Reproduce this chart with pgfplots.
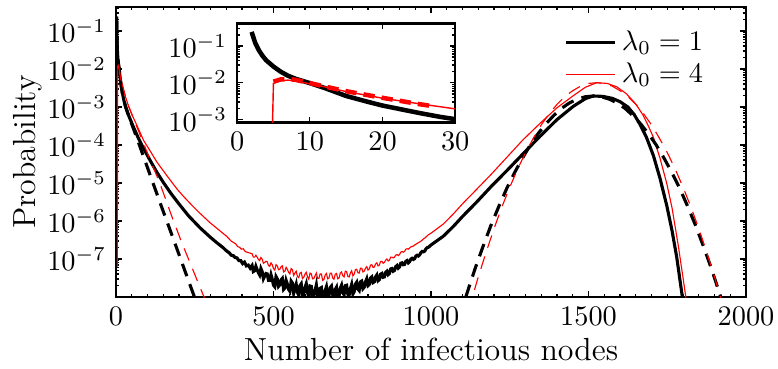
\documentclass[border=0pt]{standalone}
\usepackage{pgfplots}
\pgfplotsset{compat=1.18}
\begin{document}
\begin{tikzpicture}
\begin{axis}[
  name=main,
  scale only axis, width=222.7pt, height=102.5pt,
  xmin=0, xmax=2000, ymin=-8, ymax=-0.37,
  xtick={0,500,1000,1500,2000}, minor x tick num=9,
  /pgf/number format/set thousands separator={},
  ytick={-7,-6,-5,-4,-3,-2,-1},
  yticklabels={$10^{-7}$,$10^{-6}$,$10^{-5}$,$10^{-4}$,$10^{-3}$,$10^{-2}$,$10^{-1}$},
  minor ytick={-7.699,-7.523,-7.398,-7.301,-7.222,-7.155,-7.097,-7.046,
               -6.699,-6.523,-6.398,-6.301,-6.222,-6.155,-6.097,-6.046,
               -5.699,-5.523,-5.398,-5.301,-5.222,-5.155,-5.097,-5.046,
               -4.699,-4.523,-4.398,-4.301,-4.222,-4.155,-4.097,-4.046,
               -3.699,-3.523,-3.398,-3.301,-3.222,-3.155,-3.097,-3.046,
               -2.699,-2.523,-2.398,-2.301,-2.222,-2.155,-2.097,-2.046,
               -1.699,-1.523,-1.398,-1.301,-1.222,-1.155,-1.097,-1.046,
               -0.699,-0.523,-0.398},
  tick align=inside, major tick length=2pt, minor tick length=1.2pt,
  every tick/.style={black, line width=0.5pt},
  axis line style={line width=0.8pt},
  xlabel={Number of infectious nodes}, ylabel={Probability},
  xlabel shift=-2.5pt, ylabel shift=-5pt,
  label style={font=\fontsize{11.3}{13}\selectfont},
  tick label style={font=\fontsize{10}{12}\selectfont},
  legend style={draw=none, fill=none, at={(0.955,0.96)}, anchor=north east,
                font=\fontsize{10}{12}\selectfont, row sep=-1pt},
  legend cell align=left,
]
% lambda_0 = 1, simulation
\addplot[black, line width=1.1pt] coordinates {
(2,-0.62) (3,-1.15) (4,-1.42) (5,-1.60) (6,-1.72) (8,-1.88) (10,-1.99) (12,-2.14)
(15,-2.36) (20,-2.62) (25,-2.82) (30,-2.98) (40,-3.22) (55,-3.52) (70,-3.80) (85,-4.05)
(108,-4.40) (130,-4.72) (150,-4.98) (175,-5.28) (200,-5.55) (230,-5.86) (267,-6.18)
(300,-6.43) (320,-6.57) (340,-6.70) (350,-6.78) (360,-6.84) (366,-6.90) (372,-6.91) (378,-6.96)
(384,-6.97) (390,-7.04) (396,-7.04) (402,-7.12) (408,-7.08) (414,-7.18) (420,-7.16) (426,-7.24)
(432,-7.17) (436,-7.33) (440,-7.31) (444,-7.19) (448,-7.28) (452,-7.36) (456,-7.42) (460,-7.25)
(464,-7.33) (468,-7.52) (472,-7.45) (476,-7.38) (480,-7.39) (484,-7.56) (488,-7.56) (492,-7.41)
(496,-7.53) (500,-7.69) (504,-7.73) (508,-7.46) (512,-7.52) (516,-7.72) (520,-7.68) (524,-7.55)
(528,-7.51) (532,-7.80) (536,-7.76) (540,-7.56) (544,-7.66) (548,-7.80) (552,-7.85) (556,-7.58)
(560,-7.63) (564,-7.90) (568,-7.77) (572,-7.66) (576,-7.88) (580,-7.95) (584,-7.70) (588,-7.65)
(592,-7.95) (596,-7.91) (600,-7.75) (604,-7.65) (608,-7.88) (612,-8.00) (616,-7.71) (620,-7.72)
(624,-7.96) (628,-7.97) (632,-7.83) (636,-7.68) (640,-7.95) (644,-7.97) (648,-7.77) (652,-7.75)
(656,-8.04) (660,-8.03) (664,-7.83) (668,-7.73) (672,-7.98) (676,-7.97) (680,-7.75) (684,-7.71)
(688,-7.94) (692,-8.02) (696,-7.80) (700,-7.74) (704,-8.01) (708,-7.98) (712,-7.77) (716,-7.69)
(720,-7.89) (724,-7.94) (728,-7.70) (732,-7.69) (736,-7.93) (740,-7.95) (744,-7.78) (748,-7.67)
(752,-7.92) (756,-7.86) (760,-7.66) (764,-7.61) (768,-7.79) (772,-7.83) (776,-7.60) (780,-7.58)
(784,-7.78) (788,-7.74) (792,-7.60) (796,-7.52) (800,-7.70) (804,-7.67) (808,-7.50) (812,-7.47)
(816,-7.62) (820,-7.60) (824,-7.47) (828,-7.42) (832,-7.57) (836,-7.54) (840,-7.40) (844,-7.38)
(848,-7.48) (852,-7.47) (856,-7.35) (860,-7.32) (864,-7.41) (868,-7.38) (872,-7.26) (876,-7.25)
(880,-7.32) (884,-7.30) (888,-7.20) (892,-7.17) (896,-7.24) (900,-7.21) (904,-7.11) (908,-7.10)
(912,-7.15) (916,-7.14) (920,-7.06) (924,-7.04) (928,-7.10) (932,-7.07) (936,-7.00) (940,-6.98)
(944,-7.01) (948,-6.99) (952,-6.92) (956,-6.90) (960,-6.92) (964,-6.89) (968,-6.83) (972,-6.80)
(976,-6.81) (980,-6.79) (984,-6.73) (988,-6.70) (992,-6.69) (996,-6.66) (1000,-6.63)
(1039,-6.40) (1070,-6.15) (1100,-5.88) (1145,-5.50) (1190,-5.10) (1240,-4.68) (1290,-4.25)
(1346,-3.77) (1400,-3.33) (1452,-2.98) (1490,-2.78) (1515,-2.71) (1545,-2.72) (1575,-2.77)
(1600,-2.86) (1625,-3.00) (1645,-3.20) (1663,-3.45) (1684,-3.80) (1706,-4.28) (1727,-4.88)
(1748,-5.58) (1765,-6.25) (1780,-6.95) (1797,-7.95) (1805,-8.4)
};
\addlegendentry{$\lambda_0 = 1$}
% lambda_0 = 4, simulation
\addplot[red, line width=0.4pt] coordinates {
(4.4,-7.2) (5,-2.02) (6,-1.94) (7,-1.93) (8,-1.95) (10,-2.05) (12,-2.13) (15,-2.25)
(20,-2.43) (25,-2.59) (30,-2.73) (40,-2.98) (55,-3.28) (70,-3.55) (87,-3.87) (108,-4.15)
(130,-4.45) (161,-4.80) (193,-5.15) (214,-5.35) (245,-5.62) (267,-5.80) (298,-6.04)
(320,-6.19) (351,-6.40) (366,-6.53) (380,-6.60) (386,-6.67) (392,-6.69) (398,-6.74) (404,-6.73)
(410,-6.80) (416,-6.82) (424,-6.84)
(432,-6.86) (436,-6.95) (440,-6.95) (444,-6.90) (448,-6.95) (452,-7.01) (456,-7.04) (460,-6.96)
(464,-7.00) (468,-7.11) (472,-7.09) (476,-7.06) (480,-7.07) (484,-7.17) (488,-7.19) (492,-7.10)
(496,-7.15) (500,-7.25) (504,-7.29) (508,-7.15) (512,-7.18) (516,-7.28) (520,-7.27) (524,-7.20)
(528,-7.18) (532,-7.34) (536,-7.32) (540,-7.22) (544,-7.27) (548,-7.35) (552,-7.39) (556,-7.25)
(560,-7.28) (564,-7.43) (568,-7.37) (572,-7.32) (576,-7.46) (580,-7.49) (584,-7.37) (588,-7.35)
(592,-7.51) (596,-7.48) (600,-7.40) (604,-7.35) (608,-7.47) (612,-7.53) (616,-7.37) (620,-7.39)
(624,-7.52) (628,-7.51) (632,-7.44) (636,-7.37) (640,-7.51) (644,-7.51) (648,-7.39) (652,-7.39)
(656,-7.56) (660,-7.54) (664,-7.42) (668,-7.38) (672,-7.52) (676,-7.50) (680,-7.37) (684,-7.37)
(688,-7.50) (692,-7.53) (696,-7.40) (700,-7.38) (704,-7.52) (708,-7.50) (712,-7.37) (716,-7.34)
(720,-7.44) (724,-7.47) (728,-7.32) (732,-7.33) (736,-7.46) (740,-7.47) (744,-7.37) (748,-7.31)
(752,-7.44) (756,-7.40) (760,-7.28) (764,-7.27) (768,-7.36) (772,-7.37) (776,-7.24) (780,-7.24)
(784,-7.34) (788,-7.32) (792,-7.24) (796,-7.20) (800,-7.29) (804,-7.26) (808,-7.16) (812,-7.15)
(816,-7.22) (820,-7.21) (824,-7.13) (828,-7.10) (832,-7.18) (836,-7.16) (840,-7.06) (844,-7.06)
(848,-7.11) (852,-7.09) (856,-7.03) (860,-7.00) (864,-7.05) (868,-7.03) (872,-6.95) (876,-6.95)
(880,-6.97) (884,-6.95) (888,-6.90) (892,-6.88) (896,-6.91) (900,-6.88) (904,-6.82) (908,-6.80)
(912,-6.82) (916,-6.80) (920,-6.74) (924,-6.73) (928,-6.74) (932,-6.71) (936,-6.68) (940,-6.67)
(944,-6.66) (948,-6.63) (952,-6.61) (956,-6.59) (960,-6.57) (964,-6.55) (968,-6.53) (972,-6.50)
(976,-6.47) (980,-6.45) (984,-6.42) (988,-6.39) (992,-6.36) (996,-6.34) (1000,-6.32)
(1039,-6.08) (1070,-5.82) (1103,-5.52) (1135,-5.25) (1190,-4.78) (1240,-4.33) (1290,-3.88)
(1346,-3.43) (1400,-3.02) (1452,-2.70) (1490,-2.48) (1526,-2.36) (1560,-2.38) (1590,-2.47)
(1620,-2.65) (1650,-2.92) (1672,-3.20) (1690,-3.50) (1706,-3.80) (1727,-4.35) (1748,-5.00)
(1765,-5.65) (1785,-6.65) (1808,-7.95) (1816,-8.4)
};
\addlegendentry{$\lambda_0 = 4$}
% lambda_0 = 1, approximation (small outbreaks)
\addplot[black, line width=1.1pt, dash pattern=on 4.6pt off 3pt, forget plot] coordinates {
(2,-0.62) (3,-1.15) (4,-1.42) (5,-1.60) (6,-1.72) (8,-1.88) (10,-1.99) (12,-2.14)
(15,-2.36) (20,-2.62) (25,-2.82) (30,-2.98) (40,-3.23) (55,-3.56) (70,-3.90) (85,-4.25)
(108,-4.78) (140,-5.52) (171,-6.22) (200,-6.88) (224,-7.43) (250,-8.02) (262,-8.3)
};
% lambda_0 = 1, approximation (large outbreaks)
\addplot[black, line width=1.1pt, dash pattern=on 4.6pt off 3pt, forget plot] coordinates {
(1090,-8.54) (1115,-7.88) (1140,-7.25) (1165,-6.67) (1190,-6.12) (1215,-5.62) (1240,-5.15)
(1265,-4.73) (1290,-4.35) (1315,-4.00) (1340,-3.70) (1365,-3.44) (1390,-3.22) (1415,-3.03)
(1440,-2.89) (1465,-2.79) (1490,-2.73) (1515,-2.71) (1540,-2.73) (1565,-2.79) (1590,-2.89)
(1615,-3.03) (1640,-3.22) (1665,-3.44) (1690,-3.70) (1715,-4.00) (1740,-4.35) (1765,-4.73)
(1790,-5.15) (1815,-5.62) (1840,-6.12) (1865,-6.67) (1890,-7.25) (1915,-7.88) (1940,-8.54)
};
% lambda_0 = 4, approximation (small outbreaks)
\addplot[red, line width=0.4pt, dash pattern=on 4.6pt off 3.2pt, forget plot] coordinates {
(5,-1.99) (6,-1.91) (7,-1.90) (8,-1.92) (10,-2.02) (12,-2.10) (15,-2.22) (20,-2.40)
(25,-2.56) (30,-2.72) (40,-2.98) (55,-3.30) (70,-3.60) (87,-3.95) (110,-4.42) (140,-5.02)
(176,-5.85) (208,-6.55) (240,-7.20) (267,-7.75) (282,-8.05)
};
% lambda_0 = 4, approximation (large outbreaks)
\addplot[red, line width=0.4pt, dash pattern=on 4.6pt off 3.2pt, forget plot] coordinates {
(1100,-8.93) (1125,-8.18) (1150,-7.47) (1175,-6.82) (1200,-6.20) (1225,-5.63) (1250,-5.11)
(1275,-4.63) (1300,-4.20) (1325,-3.82) (1350,-3.47) (1375,-3.18) (1400,-2.93) (1425,-2.72)
(1450,-2.57) (1475,-2.45) (1500,-2.38) (1525,-2.36) (1550,-2.38) (1575,-2.45) (1600,-2.57)
(1625,-2.72) (1650,-2.93) (1675,-3.18) (1700,-3.47) (1725,-3.82) (1750,-4.20) (1775,-4.63)
(1800,-5.11) (1825,-5.63) (1850,-6.20) (1875,-6.82) (1900,-7.47) (1925,-8.18) (1950,-8.93)
};
\end{axis}
% inset
\begin{axis}[
  at={(42.8pt,61.7pt)}, anchor=south west,
  scale only axis, width=77.1pt, height=35pt,
  xmin=0, xmax=30, ymin=-3.08, ymax=-0.39,
  xtick={0,10,20,30},
  ytick={-3,-2,-1},
  yticklabels={$10^{-3}$,$10^{-2}$,$10^{-1}$},
  minor ytick={-3.046,
               -2.699,-2.523,-2.398,-2.301,-2.222,-2.155,-2.097,-2.046,
               -1.699,-1.523,-1.398,-1.301,-1.222,-1.155,-1.097,-1.046,
               -0.699,-0.523,-0.398},
  tick align=inside, major tick length=2pt, minor tick length=1.2pt,
  every tick/.style={black, line width=0.5pt},
  axis line style={line width=0.8pt},
  axis background/.style={fill=white},
  tick label style={font=\fontsize{10}{12}\selectfont},
]
\addplot[black, line width=1.6pt] coordinates {
(2,-0.62) (2.5,-0.92) (3,-1.12) (3.5,-1.27) (4,-1.39) (5,-1.56) (6,-1.70) (7,-1.81)
(8,-1.89) (10,-2.01) (12,-2.14) (15,-2.36) (18,-2.52) (20,-2.62) (22,-2.70) (25,-2.82)
(28,-2.93) (30,-2.99)
};
\addplot[red, line width=0.5pt] coordinates {
(4.4,-7.2) (5,-2.02) (6,-1.94) (7,-1.93) (8,-1.95) (10,-2.03) (12,-2.11) (15,-2.24)
(20,-2.42) (25,-2.57) (30,-2.71)
};
\addplot[red, line width=1.6pt, dash pattern=on 4pt off 2.5pt] coordinates {
(5,-1.97) (6,-1.91) (7,-1.90) (8,-1.92) (10,-2.01) (12,-2.10) (15,-2.23)
(20,-2.41) (25,-2.58) (27,-2.64)
};
\end{axis}
\pgfresetboundingbox
\useasboundingbox (-41pt,-25.1pt) rectangle (234pt,105pt);
\end{tikzpicture}
\end{document}
